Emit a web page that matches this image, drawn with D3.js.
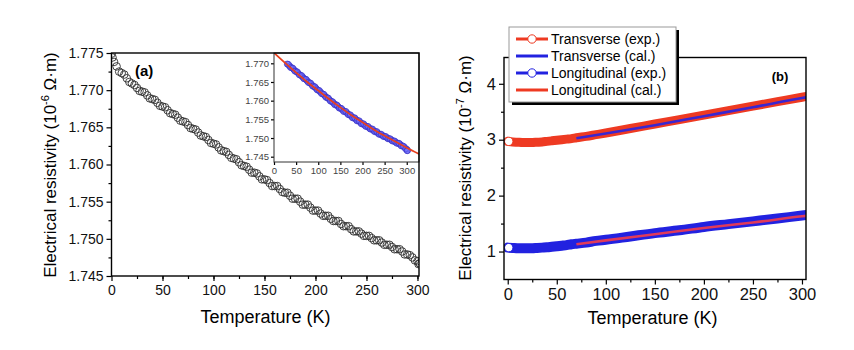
<!DOCTYPE html>
<html>
<head>
<meta charset="utf-8">
<script src="https://cdn.jsdelivr.net/npm/d3@7"></script>
<style>
  body { margin: 0; background: #fff; }
  svg { font-family: "Liberation Sans", Arial, sans-serif; }
</style>
</head>
<body>
<svg id="chart" width="854" height="350"></svg>
<script>
// Panel (a): measured resistivity (10^-6 ohm m), two interleaved sweeps
const tempA = [0, 5, 10, 15, 20, 25, 30, 35, 40, 45, 50, 55, 60, 65, 70, 75, 80, 85, 90, 95,
  100, 105, 110, 115, 120, 125, 130, 135, 140, 145, 150, 155, 160, 165, 170, 175, 180, 185, 190, 195,
  200, 205, 210, 215, 220, 225, 230, 235, 240, 245, 250, 255, 260, 265, 270, 275, 280, 285, 290, 295, 300, 302];
const rhoA = [1.7749, 1.7732, 1.7723, 1.7716, 1.7709, 1.7703, 1.7698, 1.7693, 1.7688, 1.7683, 1.7678, 1.7673, 1.7668, 1.7663, 1.7658, 1.7653, 1.7648, 1.7643, 1.7638, 1.7633,
  1.7628, 1.7623, 1.7618, 1.7613, 1.7608, 1.7603, 1.7598, 1.7593, 1.7589, 1.7584, 1.7580, 1.7575, 1.7571, 1.7567, 1.7562, 1.7558, 1.7554, 1.7550, 1.7546, 1.7542,
  1.7538, 1.7534, 1.7531, 1.7527, 1.7524, 1.7520, 1.7517, 1.7513, 1.7510, 1.7507, 1.7504, 1.7501, 1.7498, 1.7495, 1.7492, 1.7489, 1.7486, 1.7483, 1.7479, 1.7475, 1.7470, 1.7467];
const tempA2 = [1, 2.5, 7.5, 12.5, 17.5, 22.5, 27.5, 32.5, 37.5, 42.5, 47.5, 52.5, 57.5, 62.5, 67.5, 72.5, 77.5, 82.5, 87.5, 92.5, 97.5,
  102.5, 107.5, 112.5, 117.5, 122.5, 127.5, 132.5, 137.5, 142.5, 147.5, 152.5, 157.5, 162.5, 167.5, 172.5, 177.5, 182.5, 187.5, 192.5, 197.5,
  202.5, 207.5, 212.5, 217.5, 222.5, 227.5, 232.5, 237.5, 242.5, 247.5, 252.5, 257.5, 262.5, 267.5, 272.5, 277.5, 282.5, 287.5, 292.5, 297.5, 301];
const rhoA2 = [1.7744, 1.7738, 1.7725, 1.7721, 1.7711, 1.7707, 1.7699, 1.7697, 1.7689, 1.7687, 1.7679, 1.7677, 1.7669, 1.7667, 1.7659, 1.7657, 1.7649, 1.7647, 1.7639, 1.7637, 1.7629,
  1.7627, 1.7619, 1.7617, 1.7609, 1.7607, 1.7599, 1.7597, 1.7589, 1.7588, 1.7580, 1.7579, 1.7571, 1.7571, 1.7563, 1.7562, 1.7554, 1.7554, 1.7546, 1.7546, 1.7538,
  1.7538, 1.7531, 1.7531, 1.7524, 1.7524, 1.7517, 1.7517, 1.7510, 1.7510, 1.7504, 1.7504, 1.7498, 1.7498, 1.7492, 1.7492, 1.7486, 1.7486, 1.7479, 1.7478, 1.7471, 1.7466];

// Inset fit curve
const tempFit = [0, 25, 50, 75, 100, 125, 150, 175, 200, 225, 250, 275, 300, 328];
const rhoFit = [1.7728, 1.7701, 1.7675, 1.7650, 1.7627, 1.7604, 1.7582, 1.7561, 1.7542, 1.7523, 1.7506, 1.7490, 1.7474, 1.7457];

// Panel (b): 10^-7 ohm m
const tempExp = [0, 5, 10, 15, 20, 25, 30, 35, 40, 45, 50, 55, 60, 65, 70, 80, 90, 100, 125, 150, 175, 200, 225, 250, 275, 300, 305];
const transExp = [2.97, 2.96, 2.955, 2.95, 2.95, 2.95, 2.955, 2.96, 2.97, 2.98, 2.99, 3.0, 3.01, 3.02, 3.035, 3.06, 3.09, 3.12, 3.20, 3.28, 3.36, 3.44, 3.52, 3.60, 3.68, 3.76, 3.775];
const longExp = [1.07, 1.065, 1.06, 1.06, 1.06, 1.06, 1.065, 1.07, 1.075, 1.085, 1.095, 1.105, 1.115, 1.13, 1.14, 1.16, 1.19, 1.21, 1.27, 1.33, 1.38, 1.44, 1.49, 1.54, 1.59, 1.645, 1.655];
const tempCal = [70, 100, 150, 200, 250, 300, 305];
const transCal = [3.025, 3.11, 3.26, 3.42, 3.58, 3.745, 3.76];
const longCal = [1.13, 1.20, 1.31, 1.42, 1.52, 1.63, 1.64];

const legendLabels = ["Transverse (exp.)", "Transverse (cal.)", "Longitudinal (exp.)", "Longitudinal (cal.)"];

const RED = "#ee3a22";
const BLUE = "#2222e0";

const svg = d3.select("#chart");
const defs = svg.append("defs");

function styleAxis(g, fontSize) {
  g.selectAll(".domain").remove();
  g.selectAll(".tick line").attr("stroke", "#000").attr("stroke-width", 1.2);
  g.selectAll(".tick text").attr("font-size", fontSize).attr("fill", "#111")
    .attr("font-family", "Liberation Sans, Arial, sans-serif");
}

// ---------- Panel (a) ----------
const xA = d3.scaleLinear().domain([0, 301.5]).range([111.5, 419]);
const yA = d3.scaleLinear().domain([1.745, 1.775]).range([276, 53]);

defs.append("clipPath").attr("id", "clipA")
  .append("rect").attr("x", 111.5).attr("y", 53).attr("width", 307.5).attr("height", 223);

svg.append("g").attr("transform", "translate(0,276)")
  .call(d3.axisBottom(xA).tickValues(d3.range(25, 301, 25)).tickSize(3).tickFormat(""))
  .call(g => styleAxis(g, 14));
svg.append("g").attr("transform", "translate(0,276)")
  .call(d3.axisBottom(xA).tickValues(d3.range(0, 301, 50)).tickSize(5).tickPadding(4).tickFormat(d3.format("d")))
  .call(g => styleAxis(g, 14));
svg.append("g").attr("transform", "translate(111.5,0)")
  .call(d3.axisLeft(yA).tickValues(d3.range(1.7475, 1.775, 0.005)).tickSize(3).tickFormat(""))
  .call(g => styleAxis(g, 14));
svg.append("g").attr("transform", "translate(111.5,0)")
  .call(d3.axisLeft(yA).tickValues(d3.range(1.745, 1.7751, 0.005)).tickSize(5).tickPadding(3).tickFormat(d3.format(".3f")))
  .call(g => styleAxis(g, 14));

const ptsA = tempA.map((t, i) => [t, rhoA[i]]).concat(tempA2.map((t, i) => [t, rhoA2[i]]));

svg.append("g").attr("clip-path", "url(#clipA)")
  .selectAll("circle").data(ptsA).join("circle")
  .attr("cx", d => xA(d[0]))
  .attr("cy", d => yA(d[1]))
  .attr("r", 3.8)
  .attr("fill", "none")
  .attr("stroke", "#303030")
  .attr("stroke-width", 0.9);

svg.append("text").attr("x", 135).attr("y", 76).attr("font-size", 15).attr("font-weight", "bold").text("(a)");

// Inset
const xI = d3.scaleLinear().domain([0, 327.7]).range([274, 419]);
const yI = d3.scaleLinear().domain([1.74358, 1.77276]).range([162, 53]);

defs.append("clipPath").attr("id", "clipI")
  .append("rect").attr("x", 274).attr("y", 53).attr("width", 145).attr("height", 109);

svg.append("rect").attr("x", 274).attr("y", 53).attr("width", 145).attr("height", 109)
  .attr("fill", "#fff");

svg.append("g").attr("transform", "translate(0,162)")
  .call(d3.axisBottom(xI).tickValues(d3.range(0, 301, 50)).tickSize(3).tickPadding(2).tickFormat(d3.format("d")))
  .call(g => styleAxis(g, 9.5))
  .call(g => g.selectAll(".tick text").attr("fill", "#444"));
svg.append("g").attr("transform", "translate(274,0)")
  .call(d3.axisLeft(yI).tickValues(d3.range(1.745, 1.7701, 0.005)).tickSize(3).tickPadding(2).tickFormat(d3.format(".3f")))
  .call(g => styleAxis(g, 9.5))
  .call(g => g.selectAll(".tick text").attr("fill", "#444"));

const inset = svg.append("g").attr("clip-path", "url(#clipI)");
inset.selectAll("circle").data(ptsA.filter(d => d[0] >= 30)).join("circle")
  .attr("cx", d => xI(d[0]))
  .attr("cy", d => yI(d[1]))
  .attr("r", 3)
  .attr("fill", "rgba(110,110,255,0.5)")
  .attr("stroke", "#3b33c8")
  .attr("stroke-width", 0.8);
inset.append("path")
  .datum(tempFit)
  .attr("d", d3.line().x(d => xI(d)).y((d, i) => yI(rhoFit[i])).curve(d3.curveMonotoneX))
  .attr("fill", "none").attr("stroke", "#e8401e").attr("stroke-width", 1.8);
svg.append("rect").attr("x", 274).attr("y", 53).attr("width", 145).attr("height", 109)
  .attr("fill", "none").attr("stroke", "#333").attr("stroke-width", 1);

svg.append("rect").attr("x", 111.5).attr("y", 53).attr("width", 307.5).attr("height", 223)
  .attr("fill", "none").attr("stroke", "#000").attr("stroke-width", 1.4);

svg.append("text").attr("x", 265.5).attr("y", 323).attr("text-anchor", "middle")
  .attr("font-size", 18).text("Temperature (K)");
const ylabA = svg.append("text").attr("transform", "translate(56,165) rotate(-90)")
  .attr("text-anchor", "middle").attr("font-size", 17);
ylabA.append("tspan").text("Electrical resistivity (10");
ylabA.append("tspan").attr("dy", -7).attr("font-size", 11).text("-6");
ylabA.append("tspan").attr("dy", 7).text(" \u03A9\u00B7m)");

// ---------- Panel (b) ----------
const xB = d3.scaleLinear().domain([-3.8, 304.1]).range([504, 806]);
const yB = d3.scaleLinear().domain([0.5, 4.47]).range([279.5, 57.5]);

defs.append("clipPath").attr("id", "clipB")
  .append("rect").attr("x", 504).attr("y", 57.5).attr("width", 302).attr("height", 222);

svg.append("g").attr("transform", "translate(0,279.5)")
  .call(d3.axisBottom(xB).tickValues(d3.range(25, 301, 50)).tickSize(3).tickFormat(""))
  .call(g => styleAxis(g, 16.5));
svg.append("g").attr("transform", "translate(0,279.5)")
  .call(d3.axisBottom(xB).tickValues(d3.range(0, 301, 50)).tickSize(5).tickPadding(4).tickFormat(d3.format("d")))
  .call(g => styleAxis(g, 16.5));
svg.append("g").attr("transform", "translate(504,0)")
  .call(d3.axisLeft(yB).tickValues([1.5, 2.5, 3.5]).tickSize(3).tickFormat(""))
  .call(g => styleAxis(g, 16.5));
svg.append("g").attr("transform", "translate(504,0)")
  .call(d3.axisLeft(yB).tickValues([1, 2, 3, 4]).tickSize(5).tickPadding(3).tickFormat(d3.format("d")))
  .call(g => styleAxis(g, 16.5));

const lineB = vals => d3.line().x(d => xB(d)).y((d, i) => yB(vals[i])).curve(d3.curveMonotoneX);
const plotB = svg.append("g").attr("clip-path", "url(#clipB)");

plotB.append("path").datum(tempExp).attr("d", lineB(transExp))
  .attr("fill", "none").attr("stroke", RED).attr("stroke-width", 9).attr("stroke-linecap", "round");
plotB.append("path").datum(tempCal).attr("d", lineB(transCal))
  .attr("fill", "none").attr("stroke", "#3a26d0").attr("stroke-width", 2.6);
plotB.append("path").datum(tempExp).attr("d", lineB(longExp))
  .attr("fill", "none").attr("stroke", BLUE).attr("stroke-width", 10).attr("stroke-linecap", "round");
plotB.append("path").datum(tempCal).attr("d", lineB(longCal))
  .attr("fill", "none").attr("stroke", "#e03a5a").attr("stroke-width", 2.6);

plotB.append("circle").attr("cx", xB(tempExp[0]) + 1).attr("cy", yB(transExp[0]))
  .attr("r", 4.2).attr("fill", "#fff").attr("stroke", RED).attr("stroke-width", 1);
plotB.append("circle").attr("cx", xB(tempExp[0]) + 1).attr("cy", yB(longExp[0]))
  .attr("r", 4.2).attr("fill", "#fff").attr("stroke", BLUE).attr("stroke-width", 1);

svg.append("rect").attr("x", 504).attr("y", 57.5).attr("width", 302).attr("height", 222)
  .attr("fill", "none").attr("stroke", "#000").attr("stroke-width", 1.4);

svg.append("text").attr("x", 780).attr("y", 81).attr("text-anchor", "middle")
  .attr("font-size", 13).attr("font-weight", "bold").text("(b)");

svg.append("text").attr("x", 652.5).attr("y", 324).attr("text-anchor", "middle")
  .attr("font-size", 18).text("Temperature (K)");
const ylabB = svg.append("text").attr("transform", "translate(471,168) rotate(-90)")
  .attr("text-anchor", "middle").attr("font-size", 17);
ylabB.append("tspan").text("Electrical resistivity (10");
ylabB.append("tspan").attr("dy", -7).attr("font-size", 11).text("-7");
ylabB.append("tspan").attr("dy", 7).text(" \u03A9\u00B7m)");

// Legend
const legend = svg.append("g");
legend.append("rect").attr("x", 512).attr("y", 30).attr("width", 167).attr("height", 75).attr("fill", "#000");
legend.append("rect").attr("x", 509).attr("y", 27).attr("width", 167).attr("height", 75)
  .attr("fill", "#fff").attr("stroke", "#999").attr("stroke-width", 1);
const legColors = [RED, BLUE, BLUE, RED];
const legMarker = [true, false, true, false];
legendLabels.forEach((lab, i) => {
  const y = 39 + i * 17;
  legend.append("line").attr("x1", 516).attr("x2", 548).attr("y1", y).attr("y2", y)
    .attr("stroke", legColors[i]).attr("stroke-width", 3);
  if (legMarker[i]) {
    legend.append("circle").attr("cx", 532).attr("cy", y).attr("r", 4.2)
      .attr("fill", "#fff").attr("stroke", legColors[i]).attr("stroke-width", 1);
  }
  legend.append("text").attr("x", 551).attr("y", y + 5).attr("font-size", 14).text(lab);
});
</script>
</body>
</html>
